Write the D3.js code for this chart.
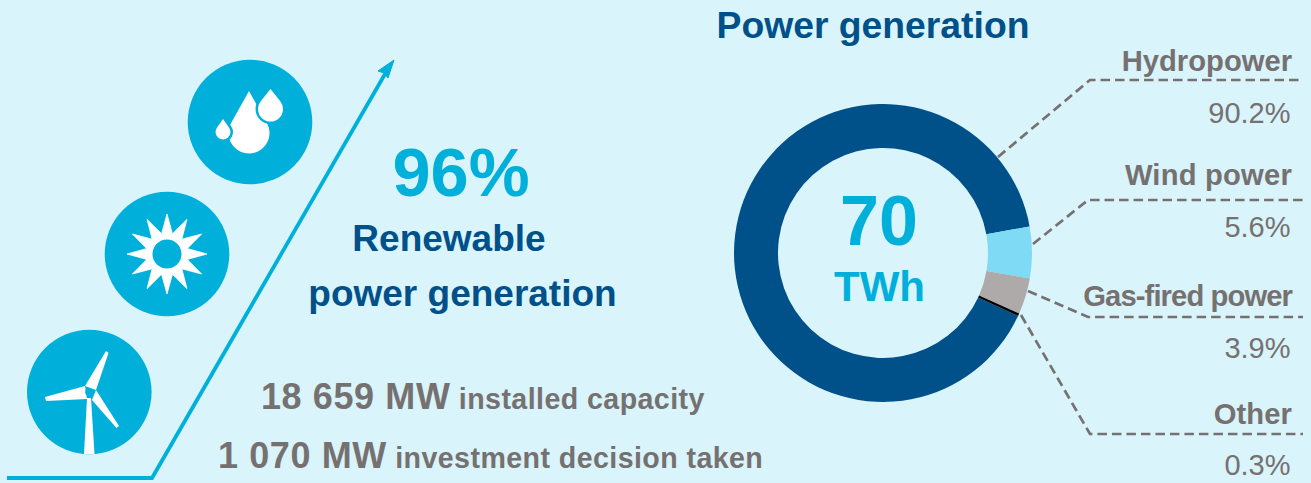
<!DOCTYPE html>
<html><head><meta charset="utf-8">
<script src="https://cdnjs.cloudflare.com/ajax/libs/d3/7.8.5/d3.min.js"></script>
<style>html,body{margin:0;padding:0;background:#daf4fb;overflow:hidden}svg{display:block}
text{font-family:"Liberation Sans",Arial,sans-serif}</style></head><body>
<script>
const categories=["Hydropower","Wind power","Gas-fired power","Other"];
const shares=[90.2,5.6,3.9,0.3];
const shareLabels=["90.2%","5.6%","3.9%","0.3%"];
const sliceColors=["#00508a","#7fdaf5","#aeaaaa","#000000"];
const title="Power generation";
const centerValue="70", centerUnit="TWh";
const headline="96%", headlineLines=["Renewable","power generation"];
const capacityNotes=[["18 659 MW"," installed capacity"],["1 070 MW"," investment decision taken"]];

const W=1311,H=483,BLUE="#00b0db",NAVY="#00508a",GREY="#767171";
const svg=d3.select("body").append("svg").attr("width",W).attr("height",H);
svg.append("rect").attr("width",W).attr("height",H).attr("fill","#daf4fb");

function txt(x,y,s,size,fill,weight,anchor,ls){
  return svg.append("text").attr("x",x).attr("y",y).text(s).attr("font-size",size).attr("fill",fill)
    .attr("font-weight",weight||"bold").attr("text-anchor",anchor||"start").attr("letter-spacing",ls||0);
}
// donut
const cx=883,cy=253;
const pie=d3.pie().sort(null).startAngle(115*Math.PI/180).endAngle((115+360)*Math.PI/180);
const arc=d3.arc().innerRadius(105).outerRadius(149);
svg.append("g").attr("transform",`translate(${cx},${cy})`).selectAll("path").data(pie(shares)).join("path")
  .attr("d",arc).attr("fill",(d,i)=>sliceColors[i]);
txt(873,37.5,title,37.3,NAVY,"bold","middle");
txt(879,245,centerValue,70,BLUE,"bold","middle");
txt(879.5,300.5,centerUnit,42,BLUE,"bold","middle");
// leaders and labels
const leaderPts=[[[998,157],[1090,80],[1303,80]],[[1033,244],[1088,200],[1303,200]],[[1028,291],[1088,317],[1303,317]],[[1021,315],[1090,434],[1303,434]]];
const nameY=[71,185,305.5,424], valueY=[123,237,358,475], nameLs=[0,0.2,-0.9,0.1];
const line=d3.line();
categories.forEach((c,i)=>{
  svg.append("path").attr("d",line(leaderPts[i])).attr("fill","none").attr("stroke",GREY).attr("stroke-width",2.7).attr("stroke-dasharray","9.5 5");
  txt(1292,nameY[i],c,29.2,GREY,"bold","end",nameLs[i]);
  txt(1290.5,valueY[i],shareLabels[i],29,GREY,"normal","end");
});
// left text
txt(461,195.5,headline,68.5,BLUE,"bold","middle");
txt(449,251,headlineLines[0],37,NAVY,"bold","middle");
txt(462.5,306,headlineLines[1],37,NAVY,"bold","middle");
[[261,409],[218,468]].forEach((p,i)=>{
  const t=txt(p[0],p[1],"",36,GREY,"bold");
  t.append("tspan").text(capacityNotes[i][0]).attr("letter-spacing",0.6);
  t.append("tspan").text(capacityNotes[i][1]).attr("font-size",28.6).attr("letter-spacing",0.42);
});
// arrow
svg.append("path").attr("d",line([[7,478],[152,478],[385,74]])).attr("fill","none").attr("stroke",BLUE).attr("stroke-width",3.8).attr("stroke-linejoin","miter");
svg.append("path").attr("d",line([[394,60],[378,71],[384,73],[388,78]])+"Z").attr("fill",BLUE).attr("stroke",BLUE).attr("stroke-width",1).attr("stroke-linejoin","round");
// icons
[[250,122],[167,254],[89.3,392]].forEach(p=>svg.append("circle").attr("cx",p[0]).attr("cy",p[1]).attr("r",62.3).attr("fill",BLUE));
function dropPath(x,tipY,cyy,r){
  const h=cyy-tipY, a=Math.acos(r/h), dx=r*Math.sin(a), dy=r*Math.cos(a);
  return `M${x},${tipY}L${x+dx},${cyy-dy}A${r},${r} 0 1 1 ${x-dx},${cyy-dy}Z`;
}
function drop(x,tipY,cyy,r,outline){
  const d=dropPath(x,tipY,cyy,r);
  if(outline) svg.append("path").attr("d",d).attr("fill",BLUE).attr("stroke",BLUE).attr("stroke-width",5).attr("stroke-linejoin","round");
  svg.append("path").attr("d",d).attr("fill","#fff");
}
drop(249,91,133,20.5,false);
drop(270.5,89,109,12.5,true);
drop(223,119,132,7.5,true);
// sun
const sunPts=d3.range(24).map(i=>{const a=i*Math.PI/12,r=i%2?21:40;return [167+r*Math.sin(a),254-r*Math.cos(a)]});
svg.append("path").attr("d",line(sunPts)+"Z").attr("fill","#fff").attr("stroke","#fff").attr("stroke-width",.8).attr("stroke-linejoin","round");
svg.append("circle").attr("cx",167).attr("cy",254).attr("r",14.5).attr("fill",BLUE);
// turbine
const shapes=[
 [[87,398],[91,398],[94.5,454],[84,454]],
 [[85,386],[96,390],[108.5,353],[106,351]],
 [[45,397],[46,401],[87,399],[85,386]],
 [[92,400],[96,390],[119,426],[116.5,428]]];
shapes.forEach(s=>svg.append("path").attr("d",line(s)+"Z").attr("fill","#fff"));
svg.append("circle").attr("cx",89).attr("cy",392).attr("r",3.8).attr("fill",BLUE);
</script></body></html>
